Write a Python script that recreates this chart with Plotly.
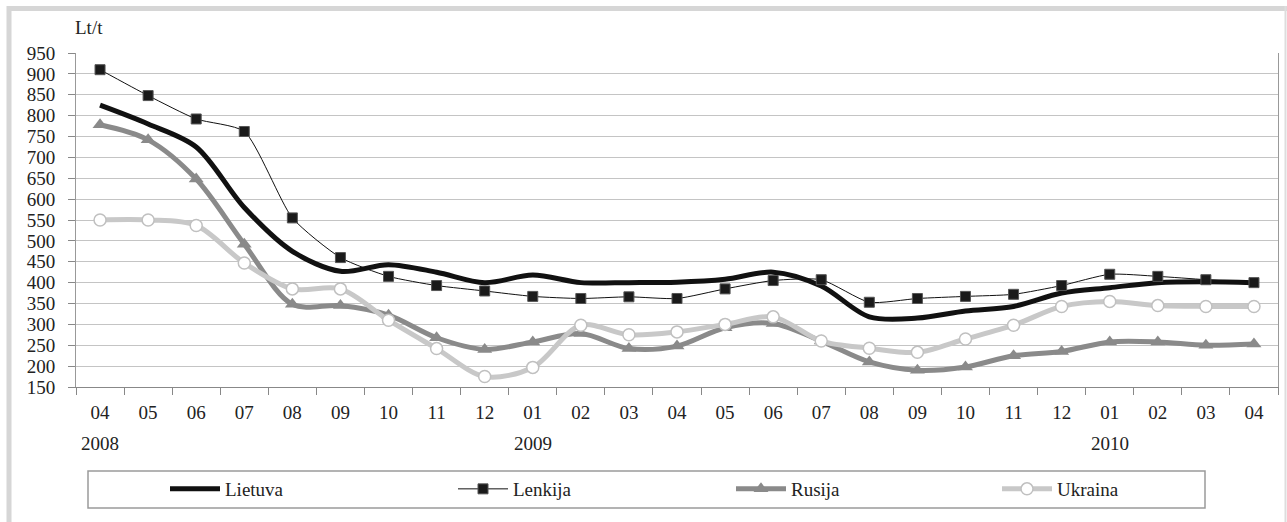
import plotly.graph_objects as go

months = ["04", "05", "06", "07", "08", "09", "10", "11", "12",
          "01", "02", "03", "04", "05", "06", "07", "08", "09", "10", "11", "12",
          "01", "02", "03", "04"]
years = [2008] * 9 + [2009] * 12 + [2010] * 4
cats = [f"{y}-{m}" for y, m in zip(years, months)]

lietuva = [825, 780, 725, 580, 475, 427, 443, 425, 400, 418, 400, 400, 401, 408, 425,
           392, 318, 315, 332, 343, 375, 388, 400, 402, 400]
lenkija = [910, 848, 792, 762, 555, 460, 415, 393, 380, 367, 362, 366, 362, 385, 405,
           407, 353, 362, 367, 372, 393, 420, 415, 407, 400]
rusija = [778, 742, 648, 492, 348, 345, 322, 268, 240, 258, 278, 242, 248, 292, 302,
          260, 210, 190, 198, 225, 235, 258, 258, 250, 253]
ukraina = [550, 550, 537, 447, 385, 385, 310, 242, 175, 197, 298, 275, 282, 300, 318,
           260, 243, 233, 265, 298, 343, 355, 345, 343, 343]

year_labels = [("2008-04", "2008"), ("2009-01", "2009"), ("2010-01", "2010")]

FONT = "Liberation Serif"
TXT = "#222222"
W, H = 1287, 522
L, R, T, B = 76, 9, 53, 135
PW, PH = W - L - R, H - T - B


def px(x):
    return (x - L) / PW


def py(y):
    return (H - B - y) / PH


fig = go.Figure()
fig.add_trace(go.Scatter(x=cats, y=lietuva, name="Lietuva", mode="lines", legend="legend",
                         line=dict(color="#111111", width=5, shape="spline", smoothing=0.9)))
fig.add_trace(go.Scatter(x=cats, y=lenkija, name="Lenkija", mode="lines+markers", legend="legend2",
                         line=dict(color="#111111", width=1, shape="spline", smoothing=0.6),
                         marker=dict(symbol="square", size=10, color="#1a1a1a",
                                     line=dict(color="#555555", width=1))))
fig.add_trace(go.Scatter(x=cats, y=rusija, name="Rusija", mode="lines+markers", legend="legend3",
                         line=dict(color="#8a8a8a", width=5, shape="spline", smoothing=0.9),
                         marker=dict(symbol="triangle-up", size=13, color="#8a8a8a")))
fig.add_trace(go.Scatter(x=cats, y=ukraina, name="Ukraina", mode="lines+markers", legend="legend4",
                         line=dict(color="#c8c8c8", width=5, shape="spline", smoothing=0.9),
                         marker=dict(symbol="circle", size=12, color="#ffffff",
                                     line=dict(color="#c0c0c0", width=1.5))))

annotations = [dict(text="Lt/t", xref="paper", yref="paper", x=px(73), y=py(28),
                    xanchor="left", yanchor="middle", showarrow=False,
                    font=dict(family=FONT, size=19, color=TXT))]
for c, t in year_labels:
    annotations.append(dict(text=t, xref="x", yref="paper", x=c, y=py(443),
                            xanchor="center", yanchor="middle", showarrow=False,
                            font=dict(family=FONT, size=19, color=TXT)))

shapes = [
    dict(type="rect", xref="paper", yref="paper", x0=px(88), x1=px(1205),
         y0=py(508), y1=py(471), line=dict(color="#9a9a9a", width=1.5),
         fillcolor="rgba(0,0,0,0)", layer="below"),
    dict(type="line", xref="paper", yref="paper", x0=px(7), x1=px(1287),
         y0=py(8.5), y1=py(8.5), line=dict(color="#d6d6d6", width=5)),
    dict(type="line", xref="paper", yref="paper", x0=px(9), x1=px(9),
         y0=py(6), y1=py(530), line=dict(color="#d6d6d6", width=5)),
    dict(type="line", xref="paper", yref="paper", x0=px(1285.5), x1=px(1285.5),
         y0=py(6), y1=py(530), line=dict(color="#dddddd", width=2)),
]


def leg(xpix):
    return dict(orientation="h", x=px(xpix), y=py(489), xanchor="left", yanchor="middle",
                bgcolor="rgba(0,0,0,0)", borderwidth=0, itemwidth=50,
                font=dict(family=FONT, size=19, color=TXT))


fig.update_layout(
    width=W, height=H,
    margin=dict(l=L, r=R, t=T, b=B, autoexpand=False),
    paper_bgcolor="white", plot_bgcolor="white",
    font=dict(family=FONT, size=19, color=TXT),
    showlegend=True,
    legend=leg(165), legend2=leg(453), legend3=leg(731), legend4=leg(997),
    annotations=annotations,
    shapes=shapes,
    xaxis=dict(type="category", categoryorder="array", categoryarray=cats,
               tickmode="array", tickvals=cats, ticktext=months,
               tickson="boundaries", ticks="outside", ticklen=7, tickcolor="#888888",
               ticklabelstandoff=8,
               showline=True, linecolor="#888888", linewidth=1,
               showgrid=False, range=[-0.5, len(cats) - 0.5],
               tickfont=dict(family=FONT, size=19, color=TXT)),
    yaxis=dict(range=[150, 950], dtick=50, tick0=150, ticks="outside", ticklen=7,
               tickcolor="#888888", showline=True, mirror=True, linecolor="#999999",
               ticklabelstandoff=9,
               linewidth=1, showgrid=True, gridcolor="#c4c4c4", gridwidth=1,
               zeroline=False, tickfont=dict(family=FONT, size=19, color=TXT)),
)

fig.write_html("out.html", config={"displayModeBar": False},
               post_script="document.body.style.margin='0px';document.body.style.overflow='hidden';")
